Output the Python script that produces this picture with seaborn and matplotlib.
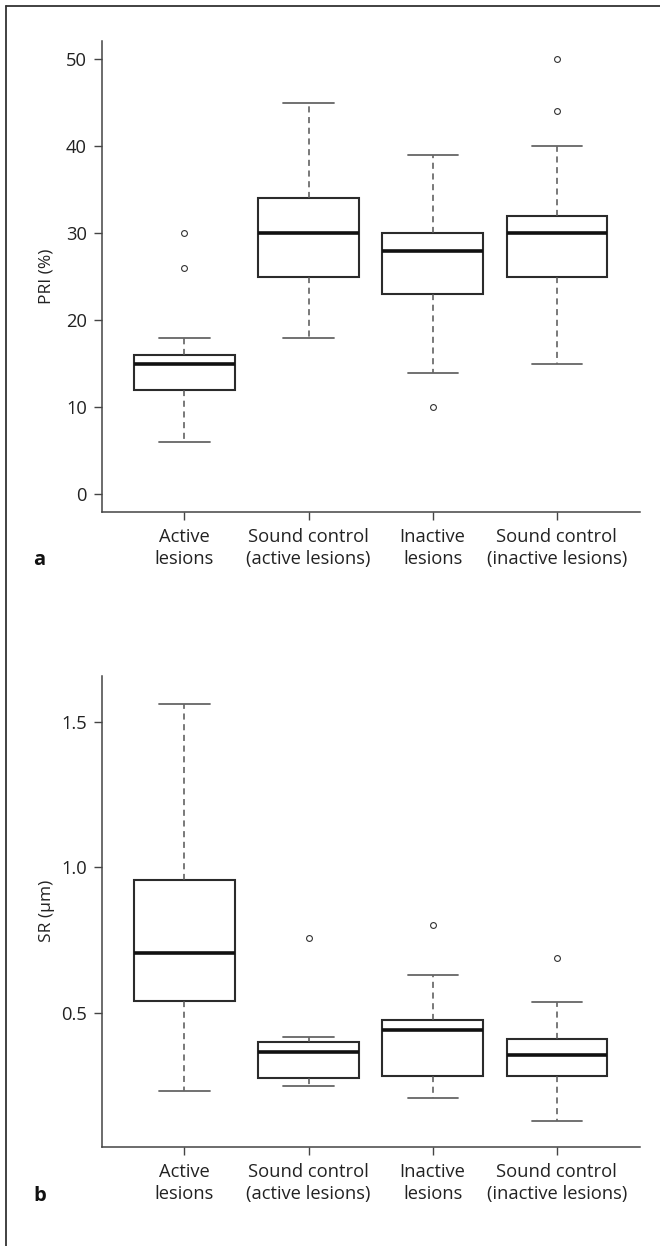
import numpy as np
import pandas as pd
import matplotlib
matplotlib.use('Agg')
import matplotlib.pyplot as plt
from matplotlib.lines import Line2D
import seaborn as sns

# categories (x axis of both panels)
groups = ['Active\nlesions', 'Sound control\n(active lesions)',
          'Inactive\nlesions', 'Sound control\n(inactive lesions)']

# panel a: PRI (%)
pri_low = [6, 18, 14, 15]
pri_q1 = [12, 25, 23, 25]
pri_med = [15, 30, 28, 30]
pri_q3 = [16, 34, 30, 32]
pri_high = [18, 45, 39, 40]
pri_out = [[26, 30], [], [10], [44, 50]]

# panel b: SR (µm)
sr_low = [0.231, 0.249, 0.207, 0.129]
sr_q1 = [0.541, 0.277, 0.283, 0.283]
sr_med = [0.705, 0.367, 0.441, 0.355]
sr_q3 = [0.957, 0.402, 0.475, 0.411]
sr_high = [1.561, 0.417, 0.631, 0.537]
sr_out = [[], [0.759], [0.803], [0.689]]


def to_frame(low, q1, med, q3, high, out):
    # every read level weighted equally so the quartiles fall on the read values
    rows = []
    for i, g in enumerate(groups):
        for v in [low[i], q1[i], med[i], q3[i], high[i]]:
            rows += [(g, v)] * 10
        rows += [(g, v) for v in out[i]]
    return pd.DataFrame(rows, columns=['group', 'value'])


sns.set_style('ticks')
plt.rcParams['font.family'] = ['Open Sans', 'DejaVu Sans']

edge = '#2b2b2b'
fig = plt.figure(figsize=(6.6, 12.46), dpi=100)

panels = [
    (to_frame(pri_low, pri_q1, pri_med, pri_q3, pri_high, pri_out),
     [0.1545, 0.5888, 0.8152, 0.3783], (-2.07, 52.1), [0, 10, 20, 30, 40, 50],
     ['0', '10', '20', '30', '40', '50'], 'PRI (%)', 'a', 565),
    (to_frame(sr_low, sr_q1, sr_med, sr_q3, sr_high, sr_out),
     [0.1545, 0.0795, 0.8152, 0.3782], (0.04, 1.658), [0.5, 1.0, 1.5],
     ['0.5', '1.0', '1.5'], 'SR (µm)', 'b', 1201),
]

for df, rect, ylim, yticks, ylabels, ylab, letter, ybase in panels:
    ax = fig.add_axes(rect)
    sns.boxplot(data=df, x='group', y='value', order=groups, ax=ax,
                color='white', linecolor=edge, width=0.81, whis=1.6,
                boxprops=dict(linewidth=1.5, edgecolor=edge, facecolor='white'),
                medianprops=dict(linewidth=2.6, color='#111111'),
                whiskerprops=dict(linewidth=1.1, color='#555555', linestyle=(0, (4, 3))),
                capprops=dict(linewidth=1.3, color='#666666'),
                flierprops=dict(marker='o', markersize=4.2, markerfacecolor='white',
                                markeredgecolor='#333333', markeredgewidth=0.8))
    ax.set_xlim(-0.664, 3.67)
    ax.set_ylim(*ylim)
    ax.set_yticks(yticks)
    ax.set_yticklabels(ylabels)
    ax.set_xlabel('')
    ax.set_ylabel(ylab, fontsize=12.5, color='#222222')
    ax.yaxis.set_label_coords(-0.088, 0.5)
    for s in ['top', 'right']:
        ax.spines[s].set_visible(False)
    for s in ['left', 'bottom']:
        ax.spines[s].set_color('#444444')
        ax.spines[s].set_linewidth(1.1)
    ax.tick_params(axis='both', direction='out', length=5.8, width=1.0,
                   color='#444444', labelsize=13.2, labelcolor='#222222')
    ax.tick_params(axis='x', pad=5.5)
    ax.tick_params(axis='y', pad=5)
    for t in ax.get_xticklabels():
        t.set_linespacing(1.3)
    fig.text(33 / 660, 1 - ybase / 1246, letter, fontsize=14.5, fontweight='bold',
             ha='left', va='baseline', color='#111111')

# frame of the figure page
fig.add_artist(Line2D([6 / 660, 6 / 660], [0, 1 - 6 / 1246], color='#333333', lw=1.3))
fig.add_artist(Line2D([6 / 660, 1], [1 - 6 / 1246, 1 - 6 / 1246], color='#333333', lw=1.3))

fig.savefig('out.png', dpi=100, facecolor='white')
